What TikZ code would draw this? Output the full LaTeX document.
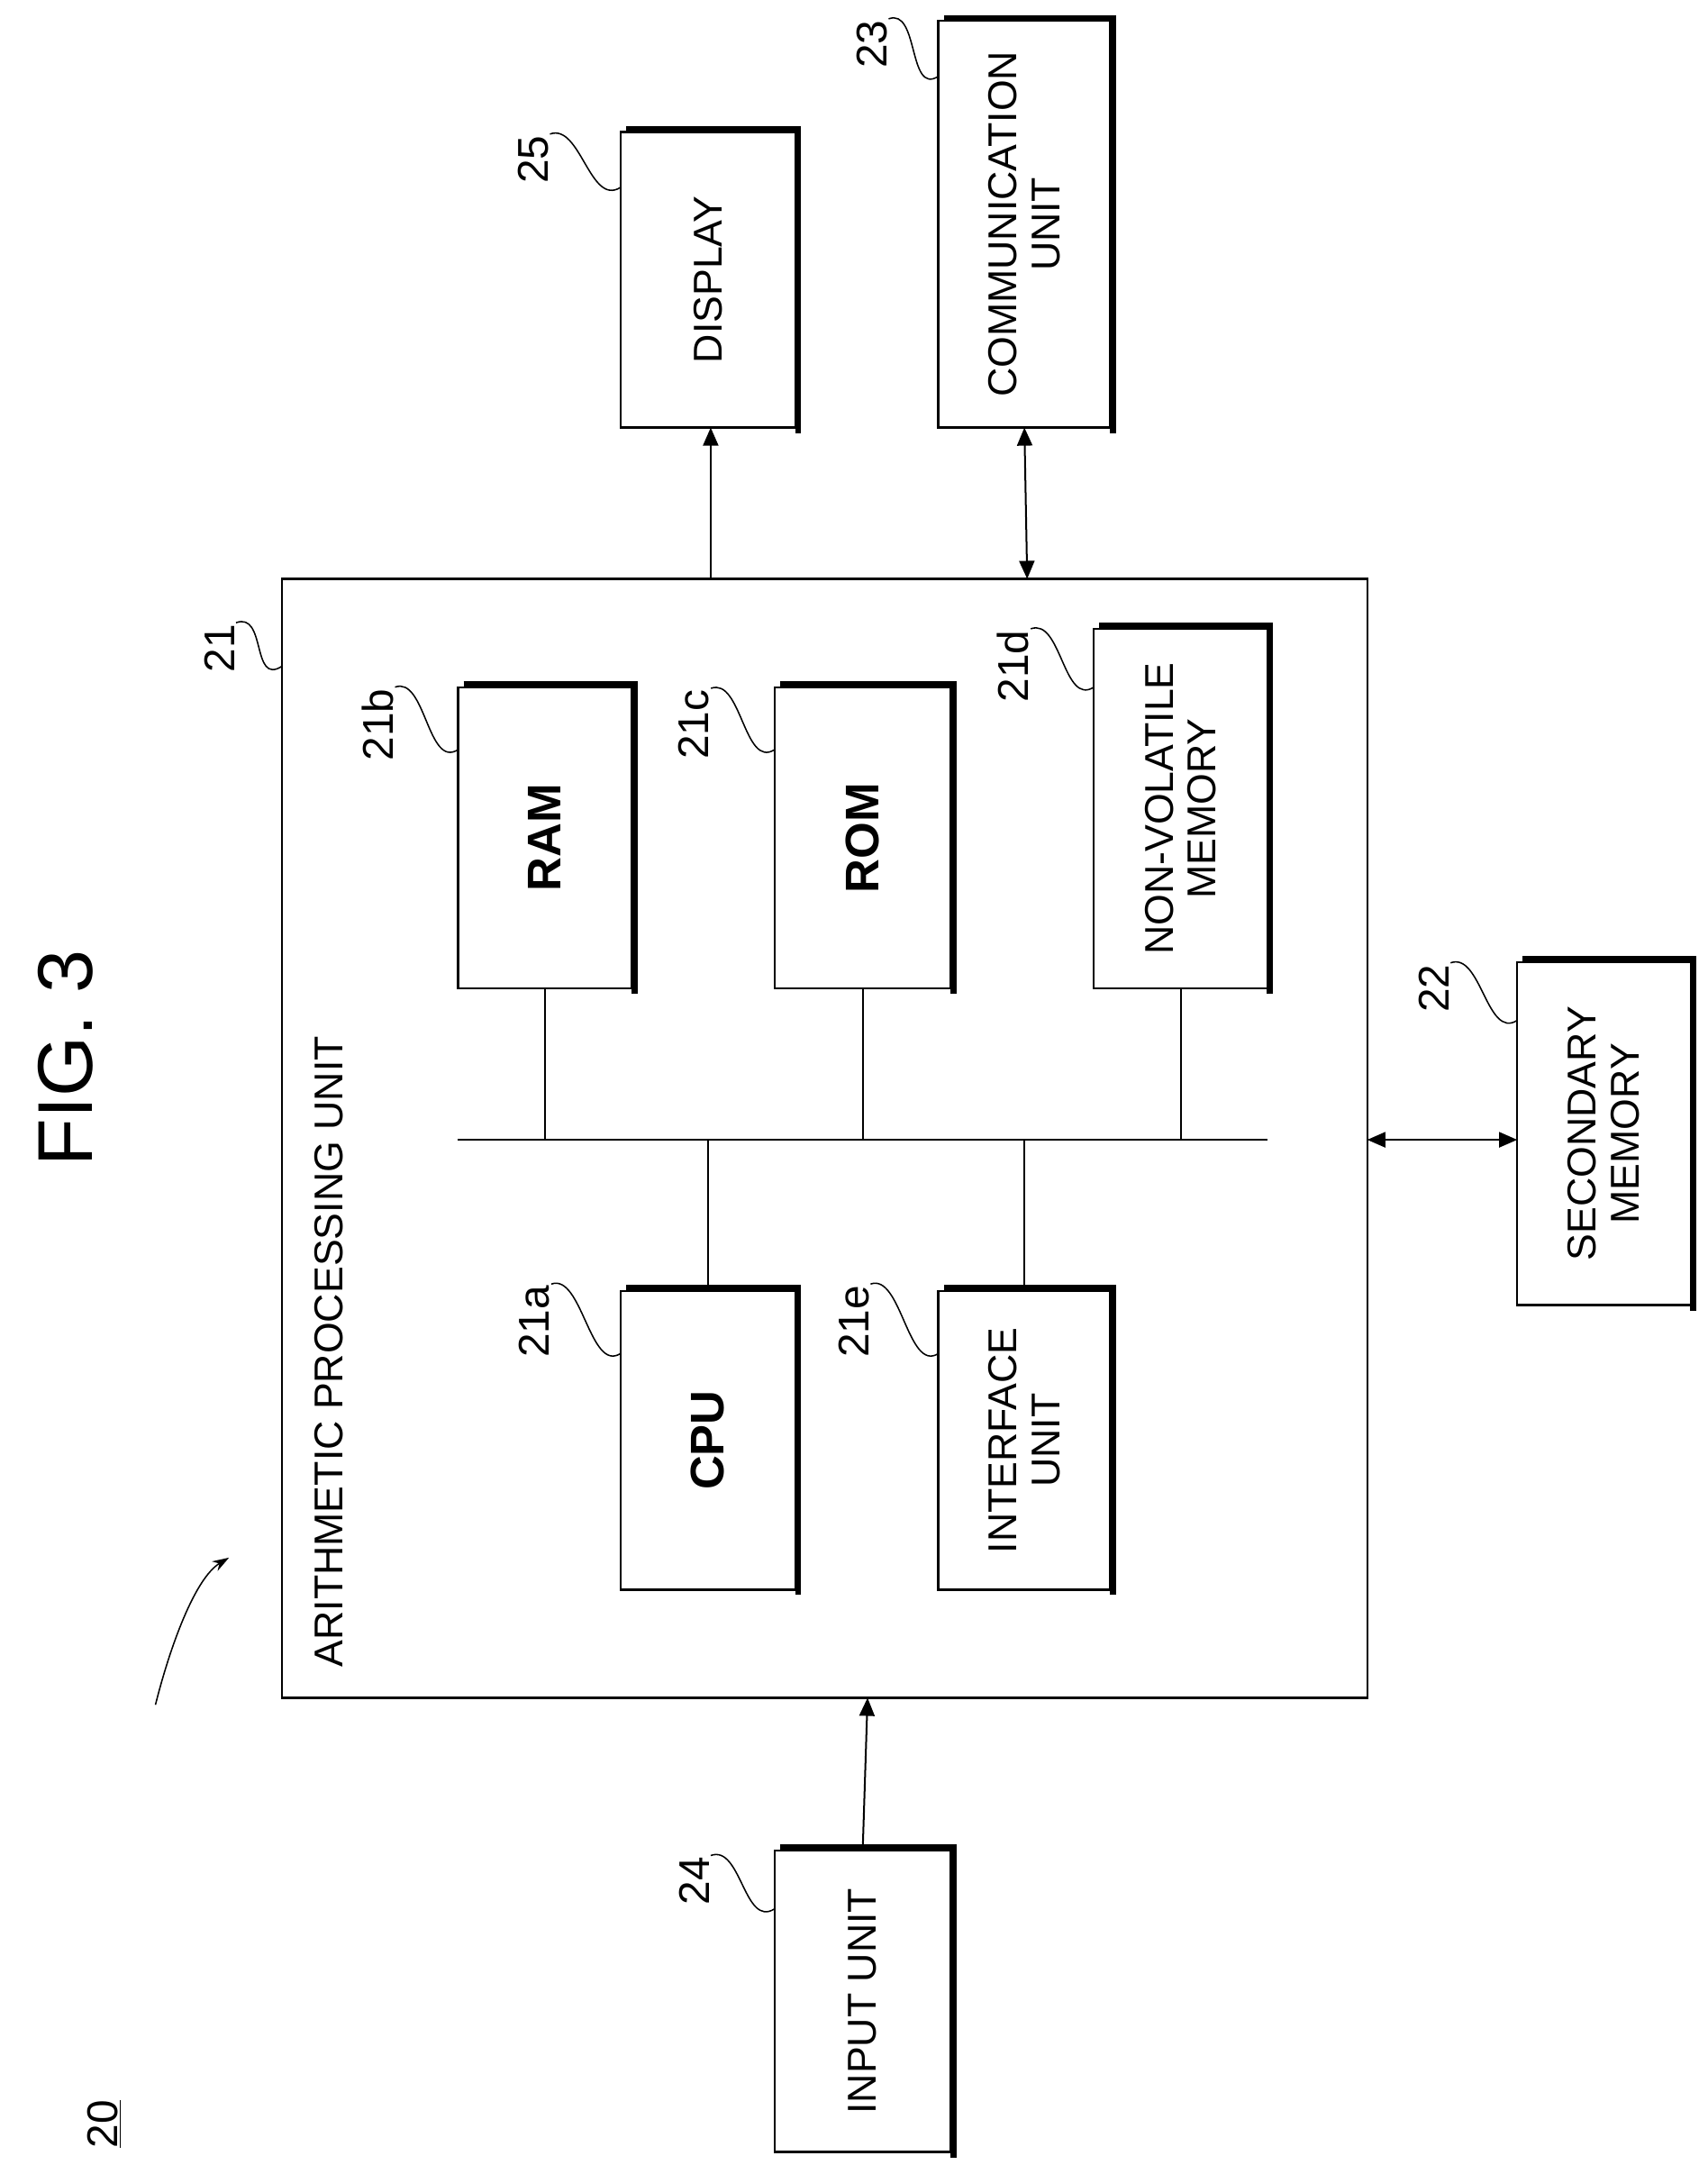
\documentclass[tikz,border=0pt]{standalone}
\usepackage{fontspec}
\setmainfont{Liberation Sans}
\usetikzlibrary{arrows.meta}
\begin{document}
\begin{tikzpicture}[x=1pt,y=1pt,
  txt/.style={rotate=90,font=\fontsize{29}{31}\selectfont,align=center,inner sep=1pt},
  btxt/.style={rotate=90,font=\fontsize{34}{36}\selectfont\bfseries,inner sep=1pt},
  ref/.style={rotate=90,font=\fontsize{31}{33}\selectfont,inner sep=1pt},
  lead/.style={line width=1pt},
  conn/.style={line width=1.3pt},
  arr/.style={conn,-{Triangle[length=13pt,width=11pt]}},
  darr/.style={conn,{Triangle[length=13pt,width=11pt]}-{Triangle[length=13pt,width=11pt]}}]
\useasboundingbox (0,0) rectangle (1230,-1566);
\newcommand{\shbox}[5]{%
  \draw[line width=1.6pt] (#2,-#3) rectangle (#4,-#5);
  \draw[line width=4.5pt] (#2+4,-#3+2) -- (#4+2,-#3+2) -- (#4+2,-#5-4);
  \coordinate (#1) at ({(#2+#4)/2},{-(#3+#5)/2});
  \coordinate (#1-t) at ({(#2+#4)/2},-#3);
  \coordinate (#1-b) at ({(#2+#4)/2},-#5);
}
\draw[line width=1.6pt] (203,-417) rectangle (985,-1223);
\node[txt,anchor=west] (apu) at (237,-1202) {ARITHMETIC PROCESSING UNIT};
\shbox{ram}{330}{495}{455}{712}
\shbox{rom}{558}{495}{685}{712}
\shbox{nvm}{788}{453}{913}{712}
\shbox{cpu}{447}{930}{573}{1145}
\shbox{ifu}{676}{930}{800}{1145}
\shbox{disp}{447}{95}{573}{308}
\shbox{comm}{676}{15}{800}{308}
\shbox{sec}{1093}{693}{1218}{940}
\shbox{inp}{558}{1333}{685}{1550}
\node[btxt] (tram) at (ram) {RAM};
\node[btxt] (trom) at (rom) {ROM};
\node[txt] (tnvm) at (nvm) {NON-VOLATILE\\MEMORY};
\node[btxt] (tcpu) at (cpu) {CPU};
\node[txt] (tifu) at (ifu) {INTERFACE\\UNIT};
\node[txt] (tdisp) at (disp) {DISPLAY};
\node[txt] (tcomm) at (comm) {COMMUNICATION\\UNIT};
\node[txt] (tsec) at (sec) {SECONDARY\\MEMORY};
\node[txt] (tinp) at (inp) {INPUT UNIT};
\coordinate (busL) at (330,-821);
\coordinate (busR) at (913,-821);
\draw[conn] (busL) -- (busR);
\draw[conn] (ram-b) -- (ram-b |- busL);
\draw[conn] (rom-b) -- (rom-b |- busL);
\draw[conn] (nvm-b) -- (nvm-b |- busL);
\draw[conn] (cpu-t) -- (cpu-t |- busL);
\draw[conn] (ifu-t) -- (ifu-t |- busL);
\coordinate (mtop1) at (512,-417);
\coordinate (mtop2) at (740,-417);
\coordinate (mright) at (985,-821);
\coordinate (mbot) at (625,-1223);
\coordinate (secL) at (1093,-821);
\draw[arr] (mtop1) -- (mtop1 |- disp-b);
\draw[darr] (mtop2) -- (comm-b);
\draw[darr] (mright) -- (secL);
\draw[arr] (inp-t) -- (mbot);
\newcommand{\refl}[6]{%
  \node[ref] (#1) at (#3,-#4) {#2};
  \coordinate (#1-e) at (#5,-#6);
  \draw[lead] (#1.south east) .. controls +(22,8) and +(-22,-14) .. (#1-e);
}
\refl{r25}{25}{384}{115}{447}{135}
\refl{r23}{23}{628}{32}{676}{55}
\refl{r21}{21}{158}{467}{203}{480}
\refl{r21b}{21b}{272}{522}{330}{540}
\refl{r21c}{21c}{500}{522}{558}{540}
\refl{r21d}{21d}{730}{480}{788}{495}
\refl{r22}{22}{1033}{712}{1093}{735}
\refl{r21a}{21a}{385}{952}{447}{975}
\refl{r21e}{21e}{615}{952}{676}{975}
\refl{r24}{24}{500}{1355}{558}{1375}
\node[rotate=90,font=\fontsize{56}{58}\selectfont] (fig) at (47,-762) {FIG. 3};
\node[rotate=90,font=\fontsize{31}{33}\selectfont,inner sep=1pt] (n20) at (75,-1530) {\underline{20}};
\coordinate (p20) at (165,-1122);
\coordinate (s20) at (112,-1228);
\draw[lead,-{Stealth[length=12pt,width=8pt]}] (s20) .. controls +(10,40) and +(-25,-15) .. (p20);
\end{tikzpicture}
\end{document}
